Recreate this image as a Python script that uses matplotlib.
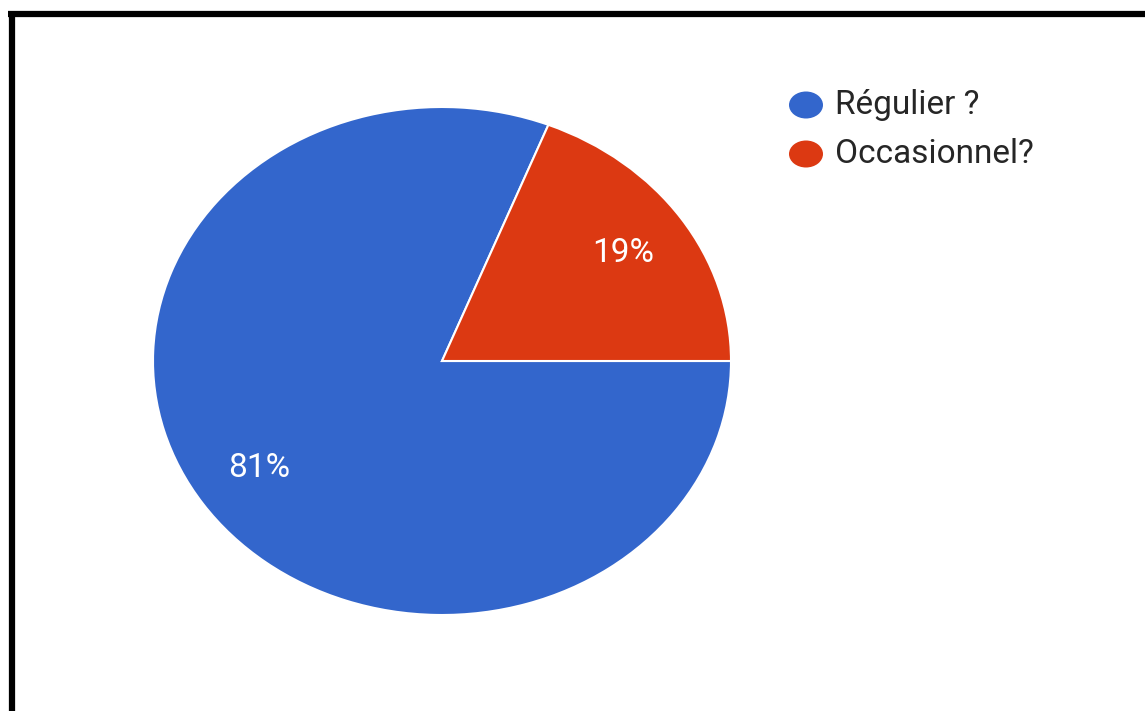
import matplotlib
matplotlib.use("Agg")
import matplotlib.pyplot as plt
from matplotlib.patches import Ellipse
from matplotlib.lines import Line2D

categories = ["Régulier ?", "Occasionnel?"]
values = [81, 19]
colors = ["#3366CC", "#DC3912"]

W, H = 1145, 711
fig = plt.figure(figsize=(W / 100, H / 100), dpi=100)
fig.patch.set_facecolor("white")

def fx(px):
    return px / W

def fy(py):
    return 1 - py / H

# Pie axes (elliptical pie, stretched horizontally)
left, right, top, bottom = 153, 731, 107, 615
ax = fig.add_axes([fx(left), fy(bottom), (right - left) / W, (bottom - top) / H])
wedges, texts, autotexts = ax.pie(
    values, colors=colors, startangle=0, counterclock=False,
    autopct=lambda p: f"{p:.0f}%", pctdistance=0.62,
    wedgeprops=dict(edgecolor="white", linewidth=1.5),
    textprops=dict(color="white", fontsize=24, family="Roboto"),
)
ax.set_aspect("auto")
ax.set_xlim(-1, 1)
ax.set_ylim(-1, 1)
ax.axis("off")

# Place percentage labels as in reference
label_pos = [(259, 468), (623, 253)]
for t, (px, py) in zip(autotexts, label_pos):
    t.set_transform(fig.transFigure)
    t.set_position((fx(px), fy(py)))
    t.set_ha("center")
    t.set_va("center")

# Legend
for i, (cat, col) in enumerate(zip(categories, colors)):
    cy = 105 + 49 * i
    fig.add_artist(Ellipse((fx(806), fy(cy)), 34 / W, 27 / H,
                           transform=fig.transFigure, facecolor=col, edgecolor="none"))
    fig.text(fx(835), fy(cy), cat, ha="left", va="center", fontsize=24,
             family="Roboto", color="#262626")

# Black frame (top and left)
fig.add_artist(Line2D([fx(8), 1], [fy(14), fy(14)], transform=fig.transFigure,
                      color="black", linewidth=4.5, solid_capstyle="butt"))
fig.add_artist(Line2D([fx(11.5), fx(11.5)], [fy(11), 0], transform=fig.transFigure,
                      color="black", linewidth=4.5, solid_capstyle="butt"))

fig.savefig("out.png", dpi=100)
